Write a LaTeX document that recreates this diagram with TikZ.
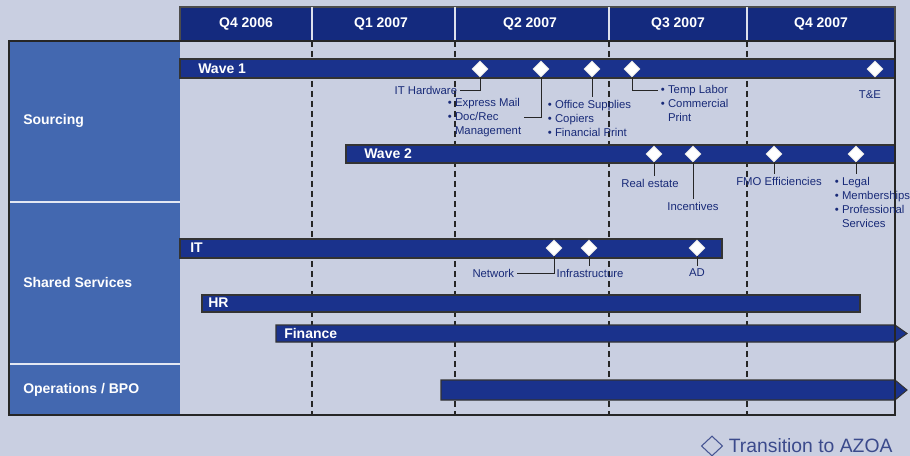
\documentclass[tikz,border=0pt]{standalone}
\usepackage{fontspec}
\setmainfont{Liberation Sans}
\usepackage{xcolor}
\definecolor{pagebg}{RGB}{201,207,225}
\definecolor{navy}{RGB}{20,42,126}
\definecolor{barblue}{RGB}{26,50,140}
\definecolor{sideblue}{RGB}{67,104,176}
\definecolor{labelblue}{RGB}{24,42,120}
\usepackage{tikz}
\usetikzlibrary{shapes.geometric,positioning,calc}

\begin{document}
\begin{tikzpicture}[
    x=0.75pt, y=-0.75pt,
    qhead/.style={font=\fontsize{10.5}{12}\selectfont\bfseries, text=white},
    side/.style={anchor=west, inner sep=0pt, text=white,
                 font=\fontsize{10.5}{12}\selectfont\bfseries},
    bar/.style={draw=black!80, fill=barblue, line width=0.8pt},
    barlbl/.style={anchor=west, inner sep=0pt, text=white,
                   font=\fontsize{10.5}{12}\selectfont\bfseries},
    ms/.style={diamond, draw=gray!25, fill=white, line width=0.5pt,
               minimum width=12pt, minimum height=12pt, inner sep=0pt},
    note/.style={font=\fontsize{8.5}{10.5}\selectfont, text=labelblue,
                 inner sep=2pt, align=left},
    conn/.style={draw=black!85, line width=0.7pt},
    qline/.style={black!85, line width=0.8pt, dash pattern=on 4.5pt off 3pt},
  ]

  %% PAGE
  \useasboundingbox[fill=pagebg] (0,0) rectangle (910,456);

  %% HEADER -- quarters
  \path[fill=navy, draw=black!70, line width=0.8pt] (180,7) rectangle (895,41);
  \foreach \x in {312,455,609,747}
    \draw[white!85!navy, line width=0.8pt] (\x,7) -- (\x,41);
  \foreach \x/\q/\n in {246/Q4 2006/qa, 381/Q1 2007/qb, 530/Q2 2007/qc,
                        678/Q3 2007/qd, 821/Q4 2007/qe}
    \node[qhead] (\n) at (\x,24) {\q};

  %% LEFT COLUMN -- areas
  \path[fill=sideblue] (9,41) rectangle (180,415);
  \draw[white!85!sideblue, line width=1pt] (9,202) -- (180,202);
  \draw[white!85!sideblue, line width=1pt] (9,364) -- (180,364);
  \node[side] (src) at (23,121) {Sourcing};
  \node[side] (shs) at (23,282) {Shared Services};
  \node[side] (ops) at (23,390) {Operations / BPO};

  %% quarter borders
  \foreach \x in {312,455,609,747}
    \draw[qline] (\x,41) -- (\x,415);

  %% BARS
  \path[bar] (180,59) rectangle (895,78);
  \node[barlbl] (wave1) at (198,69) {Wave 1};
  \path[bar] (346,145) rectangle (895,163);
  \node[barlbl] (wave2) at (364,154) {Wave 2};
  \path[bar] (180,239) rectangle (722,258);
  \node[barlbl] (it) at (190,248) {IT};
  \path[bar] (202,295) rectangle (860,312);
  \node[barlbl] (hr) at (208,303) {HR};
  \path[bar] (276,325) -- (895,325) -- (907,333.5) -- (895,342)
             -- (276,342) -- cycle;
  \node[barlbl] (fin) at (284,333.5) {Finance};
  \path[bar] (441,380) -- (895,380) -- (907,390) -- (895,400)
             -- (441,400) -- cycle;

  \draw[black!85, line width=1pt] (9,41) rectangle (895,415);

  %% MILESTONES
  \foreach \x/\n in {480/w1a, 541/w1b, 592/w1c, 632/w1d, 875/w1e}
    \node[ms] (\n) at (\x,69) {};
  \foreach \x/\n in {654/w2a, 693/w2b, 774/w2c, 856/w2d}
    \node[ms] (\n) at (\x,154) {};
  \foreach \x/\n in {554/ita, 589/itb, 697/itc}
    \node[ms] (\n) at (\x,248) {};

  %% Wave 1 notes
  \node[note, anchor=east] (ithw) at (460,90) {IT Hardware};
  \node[note, anchor=north west] (mail) at (445,95)
    {\textbullet\ Express Mail\\\textbullet\ Doc/Rec\\
     \hphantom{\textbullet\ }Management};
  \node[note, anchor=north west] (office) at (545,97)
    {\textbullet\ Office Supplies\\\textbullet\ Copiers\\
     \textbullet\ Financial Print};
  \node[note, anchor=north west] (temp) at (658,82)
    {\textbullet\ Temp Labor\\\textbullet\ Commercial\\
     \hphantom{\textbullet\ }Print};
  \node[note] (te) at (870,95) {T\&E};

  \draw[conn] (w1a.south) |- (ithw.east);
  \draw[conn] (w1b.south) |- (mail.east);
  \draw[conn] (w1c.south) -- (w1c.south |- office.north);
  \draw[conn] (w1d.south) |- ([yshift=-6pt]temp.north west);

  %% Wave 2 notes
  \node[note] (real) at (650,183) {Real estate};
  \node[note] (incent) at (693,206) {Incentives};
  \node[note] (fmo) at (779,181) {FMO Efficiencies};
  \node[note, anchor=north west] (legal) at (832,174)
    {\textbullet\ Legal\\\textbullet\ Memberships\\\textbullet\ Professional\\
     \hphantom{\textbullet\ }Services};

  \draw[conn] (w2a.south) -- (w2a.south |- real.north);
  \draw[conn] (w2b.south) -- (w2b.south |- incent.north);
  \draw[conn] (w2c.south) -- (w2c.south |- fmo.north);
  \draw[conn] (w2d.south) -- (w2d.south |- legal.north);

  %% IT notes
  \node[note, anchor=east] (net) at (517,273) {Network};
  \node[note] (infra) at (590,273) {Infrastructure};
  \node[note] (ad) at (697,273) {AD};

  \draw[conn] (ita.south) |- (net.east);
  \draw[conn] (itb.south) -- (itb.south |- infra.north);
  \draw[conn] (itc.south) -- (itc.south |- ad.north);

  %% LEGEND
  \node[diamond, draw=labelblue!80, line width=0.8pt, inner sep=0pt,
        minimum width=16pt, minimum height=15pt] (key) at (712,446) {};
  \node[right=4pt of key, inner sep=0pt, text=labelblue!85,
        font=\fontsize{14.5}{16}\selectfont] (keytxt) {Transition to AZOA};

\end{tikzpicture}
\end{document}
